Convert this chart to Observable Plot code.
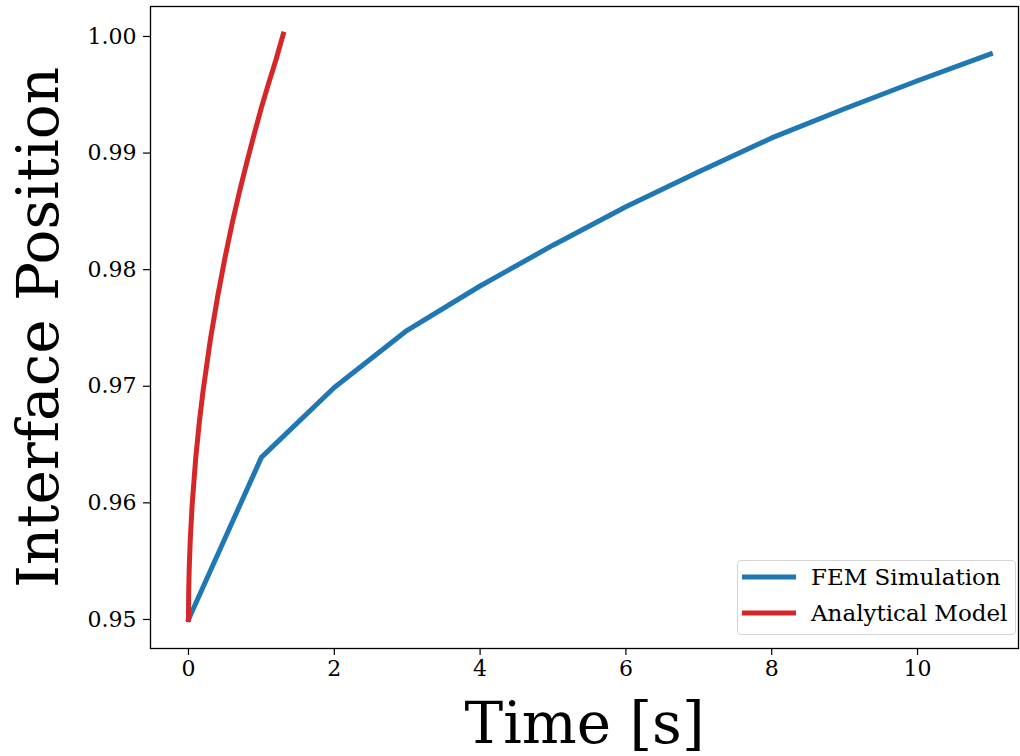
<!DOCTYPE html>
<html>
<head>
<meta charset="utf-8">
<script src="https://cdn.jsdelivr.net/npm/d3@7"></script>
<script src="https://cdn.jsdelivr.net/npm/@observablehq/plot@0.6"></script>
<style>
  html, body { margin: 0; padding: 0; background: #fff; }
  #wrap { position: relative; width: 1020px; height: 756px; font-family: "DejaVu Serif", serif; }
  #legend { position: absolute; left: 737px; top: 560px; width: 279px; height: 75px;
    border: 1px solid #d5d5d5; border-radius: 4px; background: rgba(255,255,255,0.85);
    box-sizing: border-box; }
  .item { position: absolute; left: 0; height: 26px; display: flex; align-items: center; }
  .item svg { margin-left: 4px; }
  .item span { margin-left: 15px; font-size: 23px; color: #000; white-space: nowrap; }
</style>
</head>
<body>
<div id="wrap"></div>
<script>
// Series names
const seriesNames = ["FEM Simulation", "Analytical Model"];
const seriesColors = ["#1f77b4", "#d62728"];

// FEM Simulation
const femTime = [0, 1, 2, 3, 4, 5, 6, 7, 8, 9, 10, 11];
const femPos  = [0.9500, 0.9639, 0.9699, 0.9748, 0.9786, 0.9821, 0.9854, 0.9884, 0.9913, 0.9938, 0.9962, 0.9985];

// Analytical Model
const anaTime = [0, 0.002, 0.01, 0.025, 0.05, 0.1, 0.15, 0.2, 0.3, 0.4, 0.5, 0.6, 0.7, 0.8, 0.9, 1.0, 1.1, 1.2, 1.3];
const anaPos  = [0.9500, 0.9520, 0.9544, 0.9569, 0.9598, 0.9639, 0.9670, 0.9696, 0.9740, 0.9777, 0.9810, 0.9840, 0.9867, 0.9892, 0.9916, 0.9939, 0.9960, 0.9980, 1.0002];

// Ticks
const xTicks = [0, 2, 4, 6, 8, 10];
const yTicks = [0.95, 0.96, 0.97, 0.98, 0.99, 1.00];

const xTitle = "Time [s]";
const yTitle = "Interface Position";

const fem = femTime.map((t, i) => ({t, p: femPos[i]}));
const ana = anaTime.map((t, i) => ({t, p: anaPos[i]}));

const chart = Plot.plot({
  width: 1020,
  height: 756,
  marginLeft: 150,
  marginRight: 2,
  marginTop: 6,
  marginBottom: 108,
  style: { fontFamily: "DejaVu Serif", fontSize: "22px", background: "white", color: "black" },
  x: { domain: [-0.521, 11.385] },
  y: { domain: [0.94751, 1.00257] },
  marks: [
    Plot.line(fem, { x: "t", y: "p", stroke: seriesColors[0], strokeWidth: 5, strokeLinecap: "square", strokeLinejoin: "round" }),
    Plot.line(ana, { x: "t", y: "p", stroke: seriesColors[1], strokeWidth: 5, strokeLinecap: "square", strokeLinejoin: "round" }),
    Plot.frame({ stroke: "black", strokeWidth: 1.3 }),
    Plot.axisX({ ticks: xTicks, tickSize: 7, tickPadding: 5, tickFormat: d3.format("d"), label: null, fontSize: 22, strokeWidth: 1.2 }),
    Plot.axisY({ ticks: yTicks, tickSize: 7, tickPadding: 7, tickFormat: d3.format(".2f"), label: null, fontSize: 22, strokeWidth: 1.2 }),
    Plot.text([xTitle], { text: d => d, frameAnchor: "bottom", dy: 76, fontSize: 58, lineAnchor: "middle", textAnchor: "middle", fill: "black" }),
    Plot.text([yTitle], { text: d => d, frameAnchor: "left", dx: -111, rotate: -90, fontSize: 58, lineAnchor: "middle", textAnchor: "middle", fill: "black" })
  ]
});

const wrap = document.getElementById("wrap");
wrap.appendChild(chart);

// Legend
const legend = document.createElement("div");
legend.id = "legend";
seriesNames.forEach((name, i) => {
  const item = document.createElement("div");
  item.className = "item";
  item.style.top = (3 + i * 36) + "px";
  item.innerHTML = `<svg width="54" height="10"><line x1="0" y1="5" x2="54" y2="5" stroke="${seriesColors[i]}" stroke-width="5"/></svg><span>${name}</span>`;
  legend.appendChild(item);
});
wrap.appendChild(legend);
</script>
</body>
</html>
